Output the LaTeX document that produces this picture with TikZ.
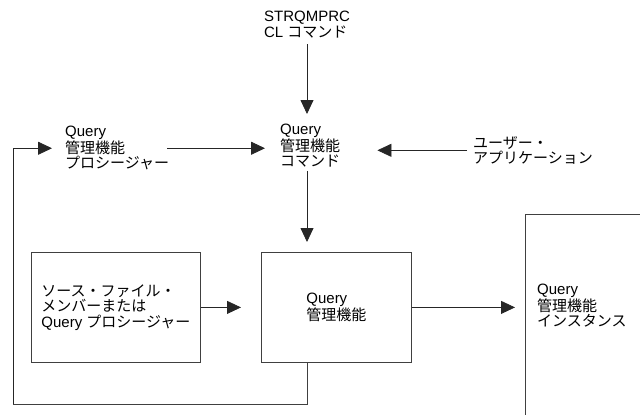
\documentclass[tikz,border=0pt]{standalone}
\usepackage{fontspec}
\setmainfont{Liberation Sans}
\newfontfamily\jp{Noto Sans CJK JP}
\usetikzlibrary{arrows.meta,calc}
\tikzset{
	label/.style  = {inner sep=0pt, align=left,
		font=\fontsize{15pt}{15.5pt}\selectfont},
	box/.style    = {label, draw=black!75, line width=0.8pt,
		anchor=north west},
	arr/.style    = {draw=black!85, line width=0.8pt,
		-{Triangle[length=14pt,width=13pt]}},
	wire/.style   = {draw=black!75, line width=0.8pt}
}

\begin{document}
\begin{tikzpicture}[x=1pt, y=-1pt]
	\clip (0,0) rectangle (640,415);
	% commands and procedures
	\node [label, anchor=north] at (307,11) (strq) {STRQMPRC\\CL {\jp コマンド}};
	\node [label, anchor=north west] at (280,124) (qmcmd) {Query\\{\jp 管理機能}\\{\jp コマンド}};
	\node [label, anchor=north west] at (65,126) (qmproc) {Query\\{\jp 管理機能}\\{\jp プロシージャー}};
	\node [label, anchor=north west] at (473,136) (userapp) {{\jp ユーザー・}\\{\jp アプリケーション}};
	% boxes
	\node [box, minimum width=169, minimum height=110] at (31,252) (srcbox) {{\jp ソース・ファイル・}\\{\jp メンバーまたは}\\Query {\jp プロシージャー}};
	\node [box, minimum width=150, minimum height=110] at (261,252) (qmbox) {Query\\{\jp 管理機能}};
	\node [box, minimum width=140, minimum height=220] at (525,214) (instbox) {};
	\node [label, anchor=north west] at (537,284) (insttext) {Query\\{\jp 管理機能}\\{\jp インスタンス}};
	\coordinate (loop) at (13,404);

	\draw [arr, shorten <=6pt, shorten >=10pt] (strq.south) -- (strq.south |- qmcmd.north);
	\draw [arr, shorten <=-2pt, shorten >=15pt] (qmproc.east) -- (qmproc.east -| qmcmd.west);
	\draw [arr, shorten <=6pt, shorten >=37pt] (userapp.west) -- (userapp.west -| qmcmd.east);
	\draw [arr, shorten <=3pt, shorten >=10pt] (strq.south |- qmcmd.south) -- (strq.south |- qmbox.north);
	\draw [arr, shorten >=20pt] (srcbox.east) -- (qmbox.west);
	\draw [arr, shorten >=10pt] (qmbox.east) -- (qmbox.east -| instbox.west);
	\draw [wire] (strq.south |- qmbox.south) |- (loop);
	\draw [arr, shorten >=13pt] (loop) |- (qmproc.west);
\end{tikzpicture}
\end{document}
